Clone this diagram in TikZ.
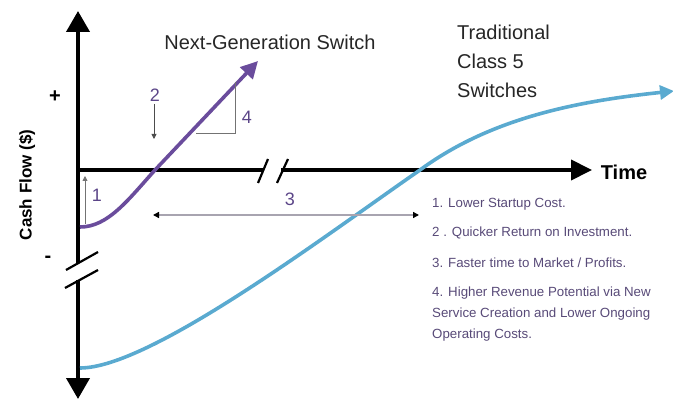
\documentclass[tikz,border=0pt]{standalone}
\usepackage{fontspec}
\setmainfont{Liberation Sans}
\usetikzlibrary{arrows.meta}
\definecolor{purp}{HTML}{6A4C9C}
\definecolor{numc}{HTML}{5B4588}
\definecolor{listc}{HTML}{584A78}
\definecolor{bluec}{HTML}{5AAAD0}
\definecolor{grayc}{HTML}{A8A4B0}
\tikzset{
  axis/.style={line width=4pt,black},
  brk/.style={line width=2.2pt,black},
  lbl/.style={font=\fontsize{20}{22}\selectfont,text=black!85,inner sep=0pt},
  num/.style={font=\fontsize{18}{20}\selectfont,text=numc,inner sep=0pt},
  item/.style={font=\fontsize{13.3}{15}\selectfont,text=listc,inner sep=0pt,anchor=west},
  thin/.style={line width=0.8pt,black!70},
}
\begin{document}
\begin{tikzpicture}[x=1pt,y=-1pt]
\useasboundingbox (0,0) rectangle (673,401);
% coordinates
\coordinate (O) at (78,170);
\coordinate (Ytop) at (78,11);
\coordinate (Ybrk1) at (78,263);
\coordinate (Ybrk2) at (78,280);
\coordinate (Ybot) at (78,399);
\coordinate (Xbrk1) at (263,170);
\coordinate (Xbrk2) at (281,170);
\coordinate (Xend) at (592,170);
% axes
\draw[axis] (O) -- (Ybrk1);
\draw[axis,-{Triangle[width=23pt,length=21pt]}] (O) -- (Ytop);
\draw[axis,-{Triangle[width=23pt,length=21pt]}] (Ybrk2) -- (Ybot);
\draw[axis] (O) -- (Xbrk1);
\draw[axis,-{Triangle[width=20pt,length=21pt]}] (Xbrk2) -- (Xend);
% breaks
\coordinate (vb1a) at (66,270); \coordinate (vb1b) at (98,252);
\coordinate (vb2a) at (65,288); \coordinate (vb2b) at (98,270);
\draw[brk] (vb1a) -- (vb1b);
\draw[brk] (vb2a) -- (vb2b);
\coordinate (hb1a) at (258,183); \coordinate (hb1b) at (268,159);
\coordinate (hb2a) at (277,183); \coordinate (hb2b) at (288,159);
\draw[brk] (hb1a) -- (hb1b);
\draw[brk] (hb2a) -- (hb2b);
% blue curve
\coordinate (B0) at (80,368);
\coordinate (B1) at (420,170);
\coordinate (B2) at (674,91);
\draw[bluec,line width=3.6pt,-{Triangle[width=14pt,length=14pt]}]
  (B0) .. controls (150,368) and (322,238) .. (B1)
       .. controls (492,117) and (580,101) .. (B2);
% purple curve
\coordinate (P0) at (80,227);
\coordinate (P1) at (155,170);
\coordinate (Ptip) at (258,61);
\draw[purp,line width=3.6pt,-{Triangle[width=17pt,length=17pt]}]
  (P0) .. controls (108,227) and (128,200) .. (P1) -- (Ptip);
% triangle for 4
\coordinate (T1) at (235,82);
\coordinate (T2) at (235,133);
\coordinate (T3) at (196,133);
\draw[line width=0.8pt,black!55] (T1) -- (T2) -- (T3);
\node[num] (n4) at (247,117) {4};
% 2
\node[num] (n2) at (155,95) {2};
\coordinate (a2s) at (154,104);
\coordinate (a2e) at (154,139);
\draw[thin,-{Triangle[width=5pt,length=5pt]}] (a2s) -- (a2e);
% 1
\node[num] (n1) at (97,195) {1};
\coordinate (a1s) at (85,224);
\coordinate (a1e) at (85,176);
\draw[line width=0.8pt,black!55,-{Triangle[width=5pt,length=5pt]}] (a1s) -- (a1e);
% 3
\node[num] (n3) at (290,199) {3};
\coordinate (a3l) at (153,215);
\coordinate (a3r) at (419,215);
\draw[grayc,line width=1.6pt,{Triangle[width=6pt,length=6pt,color=black]}-{Triangle[width=6pt,length=6pt,color=black]}] (a3l) -- (a3r);
% labels
\node[lbl] (ngs) at (270,42) {Next-Generation Switch};
\node[lbl,anchor=north west,align=left,font=\fontsize{20}{29}\selectfont] (trad) at (457,25) {Traditional\\Class 5\\Switches};
\node[lbl,font=\fontsize{20}{22}\selectfont\bfseries,text=black] (time) at (624,172) {Time};
\node[lbl,font=\fontsize{17}{20}\selectfont\bfseries,text=black,rotate=90] (cf) at (27,185) {Cash Flow (\$)};
\node[lbl,font=\fontsize{20}{22}\selectfont\bfseries,text=black] (plus) at (55,97) {+};
\node[lbl,font=\fontsize{20}{22}\selectfont\bfseries,text=black] (minus) at (48,259) {-};
% list
\node[item] (i1) at (432,204) {1. Lower Startup Cost.};
\node[item] (i2) at (432,233) {2 . Quicker Return on Investment.};
\node[item] (i3) at (432,263) {3. Faster time to Market / Profits.};
\node[item] (i4) at (432,293) {4. Higher Revenue Potential via New};
\node[item] (i5) at (432,314) {Service Creation and Lower Ongoing};
\node[item] (i6) at (432,335) {Operating Costs.};
\end{tikzpicture}
\end{document}
